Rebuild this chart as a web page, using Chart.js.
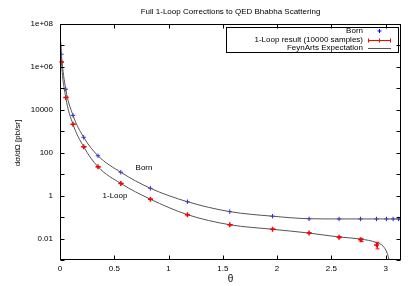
<!DOCTYPE html>
<html>
<head>
<meta charset="utf-8">
<script src="https://cdn.jsdelivr.net/npm/chart.js@4/dist/chart.umd.min.js"></script>
<style>
	html, body { margin: 0; padding: 0; background: #fff; }
</style>
</head>
<body>
<canvas id="chart" width="409" height="286"></canvas>
<script>
'use strict';

// Born sample points (blue +)
const bornTheta = [0.013, 0.053, 0.12, 0.218, 0.35, 0.56, 0.833, 1.174, 1.564, 1.958, 2.295, 2.571, 2.769, 2.916, 3.008, 3.069, 3.119, 3.136];
const bornValues = [3.9e6, 9.1e4, 5.5e3, 525, 72, 12.3, 2.2, 0.52, 0.18, 0.11, 0.083, 0.082, 0.082, 0.082, 0.082, 0.082, 0.082, 0.082];

// 1-Loop MC result (red, with error bars)
const loopTheta = [0.013, 0.053, 0.12, 0.218, 0.35, 0.56, 0.833, 1.174, 1.564, 1.958, 2.295, 2.571, 2.769, 2.916];
const loopValues = [1.7e6, 3.8e4, 2.1e3, 190, 22, 3.7, 0.68, 0.13, 0.044, 0.027, 0.018, 0.0115, 0.0087, 0.005];
const loopErrors = [3e4, 800, 40, 4, 0.5, 0.08, 0.015, 0.003, 0.001, 0.0008, 0.0006, 0.0008, 0.0015, 0.0017];

// FeynArts expectation curves
const bornCurveTheta = [0.006, 0.013, 0.053, 0.12, 0.218, 0.35, 0.56, 0.833, 1.174, 1.564, 1.958, 2.295, 2.571, 2.9, 3.1416];
const bornCurveValues = [1.6e7, 3.9e6, 9.1e4, 5.5e3, 525, 72, 12.3, 2.2, 0.52, 0.18, 0.11, 0.084, 0.082, 0.082, 0.082];
const loopCurveTheta = [0.006, 0.013, 0.053, 0.12, 0.218, 0.35, 0.56, 0.833, 1.174, 1.564, 1.958, 2.295, 2.571, 2.769, 2.916, 2.977, 3.014, 3.032];
const loopCurveValues = [1.0e7, 1.7e6, 3.8e4, 2.1e3, 190, 22, 3.7, 0.68, 0.13, 0.044, 0.027, 0.018, 0.0118, 0.0095, 0.0065, 0.0044, 0.0021, 0.001];

// axes
const xTickValues = [0, 0.5, 1, 1.5, 2, 2.5, 3];
const xTickLabels = ['0', '0.5', '1', '1.5', '2', '2.5', '3'];
const yTickValues = [1e-3, 1e-2, 1e-1, 1, 10, 100, 1e3, 1e4, 1e5, 1e6, 1e7, 1e8];
const yLabelValues = [0.01, 1, 100, 1e4, 1e6, 1e8];
const yTickLabels = ['0.01', '1', '100', '10000', '1e+06', '1e+08'];

const FONT = 'Liberation Sans, Arial, sans-serif';
const CURVE = '#555';

function toPoints(xs, ys) {
	return xs.map(function(t, i){ return { x: t, y: ys[i] }; });
}

// frame, inward ticks, error bars, legend and texts
const decorations = {
	id: 'decorations',
	afterDatasetsDraw: function(chart) {
		const ctx = chart.ctx;
		const x = chart.scales.x, y = chart.scales.y;
		ctx.save();
		ctx.strokeStyle = '#f00';
		ctx.lineWidth = 1;
		loopTheta.forEach(function(t, i){
			const px = Math.round(x.getPixelForValue(t)) + 0.5;
			const top = y.getPixelForValue(loopValues[i] + loopErrors[i]);
			const bot = y.getPixelForValue(Math.max(loopValues[i] - loopErrors[i], 1e-3));
			ctx.beginPath();
			ctx.moveTo(px, top); ctx.lineTo(px, bot);
			ctx.moveTo(px - 2, top); ctx.lineTo(px + 2, top);
			ctx.moveTo(px - 2, bot); ctx.lineTo(px + 2, bot);
			ctx.stroke();
		});
		ctx.restore();
	},
	afterDraw: function(chart) {
		const ctx = chart.ctx;
		const a = chart.chartArea;
		const x = chart.scales.x, y = chart.scales.y;
		const L = Math.round(a.left) + 0.5, R = Math.round(a.right) - 0.5;
		const T = Math.round(a.top) + 0.5, B = Math.round(a.bottom) - 0.5;
		ctx.save();
		ctx.strokeStyle = '#000';
		ctx.lineWidth = 1;
		ctx.strokeRect(L, T, R - L, B - T);

		ctx.beginPath();
		yTickValues.forEach(function(v){
			const py = Math.round(y.getPixelForValue(v)) + 0.5;
			ctx.moveTo(L, py); ctx.lineTo(L + 4, py);
			ctx.moveTo(R, py); ctx.lineTo(R - 4, py);
		});
		xTickValues.forEach(function(v){
			const px = Math.round(x.getPixelForValue(v)) + 0.5;
			ctx.moveTo(px, B); ctx.lineTo(px, B - 4);
			ctx.moveTo(px, T); ctx.lineTo(px, T + 4);
		});
		ctx.stroke();

		ctx.fillStyle = '#000';
		ctx.font = '8px ' + FONT;
		ctx.textAlign = 'center';
		ctx.textBaseline = 'middle';
		ctx.fillText('Full 1-Loop Corrections to QED Bhabha Scattering', (a.left + a.right) / 2, 12);
		ctx.fillText('Born', 144, 168);
		ctx.fillText('1-Loop', 115, 196);

		ctx.save();
		ctx.translate(18, 143);
		ctx.rotate(-Math.PI / 2);
		ctx.fillText('dσ/dΩ [pb/sr]', 0, 0);
		ctx.restore();

		ctx.font = '10px ' + FONT;
		ctx.fillText('θ', (a.left + a.right) / 2, 279);
		ctx.font = '8px ' + FONT;

		// legend box
		const lx0 = a.left + 166, lx1 = a.right - 3;
		ctx.strokeRect(Math.round(lx0) + 0.5, 27.5, Math.round(lx1 - lx0), 25);
		const textRight = a.right - 38;
		const s0 = a.right - 33, s1 = a.right - 10, sc = (s0 + s1) / 2;
		const rows = [31, 39.5, 48];
		ctx.textAlign = 'right';
		ctx.fillText('Born', textRight, rows[0]);
		ctx.fillText('1-Loop result (10000 samples)', textRight, rows[1]);
		ctx.fillText('FeynArts Expectation', textRight, rows[2]);

		ctx.strokeStyle = '#00f';
		ctx.beginPath();
		ctx.moveTo(sc - 2, rows[0]); ctx.lineTo(sc + 2, rows[0]);
		ctx.moveTo(sc, rows[0] - 2); ctx.lineTo(sc, rows[0] + 2);
		ctx.stroke();

		ctx.strokeStyle = '#f00';
		ctx.beginPath();
		const r1 = Math.round(rows[1]) + 0.5;
		ctx.moveTo(s0, r1); ctx.lineTo(s1, r1);
		ctx.moveTo(s0 + 0.5, r1 - 2); ctx.lineTo(s0 + 0.5, r1 + 2);
		ctx.moveTo(s1 - 0.5, r1 - 2); ctx.lineTo(s1 - 0.5, r1 + 2);
		ctx.moveTo(sc, r1 - 2); ctx.lineTo(sc, r1 + 2);
		ctx.stroke();

		ctx.strokeStyle = CURVE;
		ctx.beginPath();
		const r2 = Math.round(rows[2]) + 0.5;
		ctx.moveTo(s0, r2); ctx.lineTo(s1, r2);
		ctx.stroke();
		ctx.restore();
	}
};

new Chart(document.getElementById('chart').getContext('2d'), {
	data: {
		datasets: [{
			type: 'line',
			label: 'FeynArts Born',
			data: toPoints(bornCurveTheta, bornCurveValues),
			borderColor: CURVE,
			borderWidth: 1,
			pointRadius: 0,
			cubicInterpolationMode: 'monotone'
		}, {
			type: 'line',
			label: 'FeynArts 1-Loop',
			data: toPoints(loopCurveTheta, loopCurveValues),
			borderColor: CURVE,
			borderWidth: 1,
			pointRadius: 0,
			cubicInterpolationMode: 'monotone'
		}, {
			type: 'scatter',
			label: 'Born',
			data: toPoints(bornTheta, bornValues),
			pointStyle: 'cross',
			pointRadius: 2.2,
			borderColor: '#22f',
			borderWidth: 1
		}, {
			type: 'scatter',
			label: '1-Loop result (10000 samples)',
			data: toPoints(loopTheta, loopValues),
			pointStyle: 'cross',
			pointRadius: 2.5,
			borderColor: '#f00',
			borderWidth: 1.5
		}]
	},
	options: {
		responsive: false,
		animation: false,
		layout: { padding: { left: 0, right: 8, top: 24, bottom: 0 } },
		plugins: {
			legend: { display: false },
			title: { display: false },
			tooltip: { enabled: false }
		},
		scales: {
			x: {
				type: 'linear',
				min: 0,
				max: Math.PI,
				afterBuildTicks: function(scale){ scale.ticks = xTickValues.map(function(v){ return { value: v }; }); },
				afterFit: function(scale){ scale.height = 26; },
				grid: { display: false, drawTicks: false },
				border: { display: false },
				ticks: {
					padding: 4,
					color: '#000',
					font: { family: FONT, size: 8 },
					maxRotation: 0,
					autoSkip: false,
					callback: function(v){ const i = xTickValues.indexOf(v); return i >= 0 ? xTickLabels[i] : ''; }
				}
			},
			y: {
				type: 'logarithmic',
				min: 1e-3,
				max: 1e8,
				afterBuildTicks: function(scale){ scale.ticks = yTickValues.map(function(v){ return { value: v }; }); },
				afterFit: function(scale){ scale.width = 60; },
				grid: { display: false, drawTicks: false },
				border: { display: false },
				ticks: {
					padding: 7,
					color: '#000',
					font: { family: FONT, size: 8 },
					autoSkip: false,
					callback: function(v){
						const i = yLabelValues.findIndex(function(l){ return Math.abs(Math.log10(l) - Math.log10(v)) < 1e-6; });
						return i >= 0 ? yTickLabels[i] : '';
					}
				}
			}
		}
	},
	plugins: [decorations]
});
</script>
</body>
</html>
